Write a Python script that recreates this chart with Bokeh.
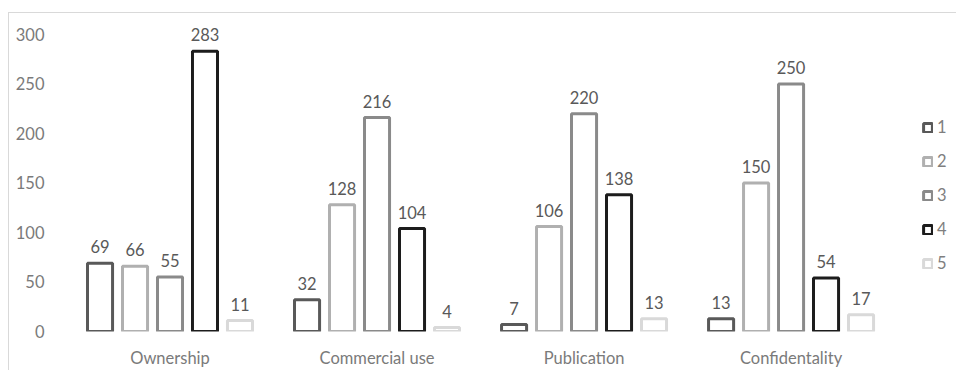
from bokeh.plotting import figure
from bokeh.models import ColumnDataSource, Range1d, Legend, LegendItem
from bokeh.transform import dodge
from bokeh.core.properties import value
from bokeh.embed import file_html
from bokeh.resources import INLINE

categories = ["Ownership", "Commercial use", "Publication", "Confidentality"]
series_names = ["1", "2", "3", "4", "5"]
s1 = [69, 32, 7, 13]
s2 = [66, 128, 106, 150]
s3 = [55, 216, 220, 250]
s4 = [283, 104, 138, 54]
s5 = [11, 4, 13, 17]
y_ticks = [0, 50, 100, 150, 200, 250, 300]

series = [s1, s2, s3, s4, s5]
colors = ["#595959", "#b0b0b0", "#8a8a8a", "#1c1c1c", "#d9d9d9"]
offsets = [-0.338, -0.169, 0.0, 0.169, 0.338]
FONT = "Lato"

xpos = list(range(len(categories)))
data = {"x": xpos}
for name, vals in zip(series_names, series):
    data["s" + name] = vals
    data["t" + name] = [str(v) for v in vals]
src = ColumnDataSource(data)

p = figure(x_range=Range1d(-0.5, 3.804), y_range=Range1d(0, 310),
           width=948, height=358, output_backend="svg", toolbar_location=None,
           min_border_left=57, min_border_right=0, min_border_top=11, min_border_bottom=40,
           margin=(12, 0, 0, 8),
           styles={"border-top": "1px solid #d9d9d9", "border-left": "1px solid #d9d9d9"})

p.outline_line_color = None
p.xgrid.grid_line_color = None
p.ygrid.grid_line_color = None

items = []
for name, color, off in zip(series_names, colors, offsets):
    r = p.vbar(x=dodge("x", off), top="s" + name, width=0.121,
               source=src, fill_color="white", line_color=color, line_width=3)
    p.text(x=dodge("x", off), y="s" + name, text="t" + name,
           source=src, text_align="center", text_baseline="bottom", y_offset=-10,
           text_font=value(FONT), text_font_size="16.5px", text_color="#595959")
    items.append(LegendItem(label=name, renderers=[r]))

legend = Legend(items=items, location=(856, 58), orientation="vertical",
                glyph_width=11, glyph_height=11, spacing=14, padding=0, margin=0,
                label_text_font=FONT, label_text_font_size="16.5px",
                label_text_color="#7f7f7f", label_standoff=4,
                border_line_color=None, background_fill_alpha=0)
p.add_layout(legend, "center")

p.yaxis.ticker = y_ticks
p.yaxis.axis_line_color = None
p.yaxis.major_tick_line_color = None
p.yaxis.minor_tick_line_color = None
p.yaxis.major_label_text_font = FONT
p.yaxis.major_label_text_font_size = "16.5px"
p.yaxis.major_label_text_color = "#7a7a7a"
p.yaxis.major_label_standoff = 16

p.xaxis.ticker = xpos
p.xaxis.major_label_overrides = {i: c for i, c in zip(xpos, categories)}
p.xaxis.axis_line_color = None
p.xaxis.major_tick_line_color = None
p.xaxis.minor_tick_line_color = None
p.xaxis.major_label_text_font = FONT
p.xaxis.major_label_text_font_size = "16.5px"
p.xaxis.major_label_text_color = "#7a7a7a"
p.xaxis.major_label_standoff = 10

open("out.html", "w").write(file_html(p, INLINE))
